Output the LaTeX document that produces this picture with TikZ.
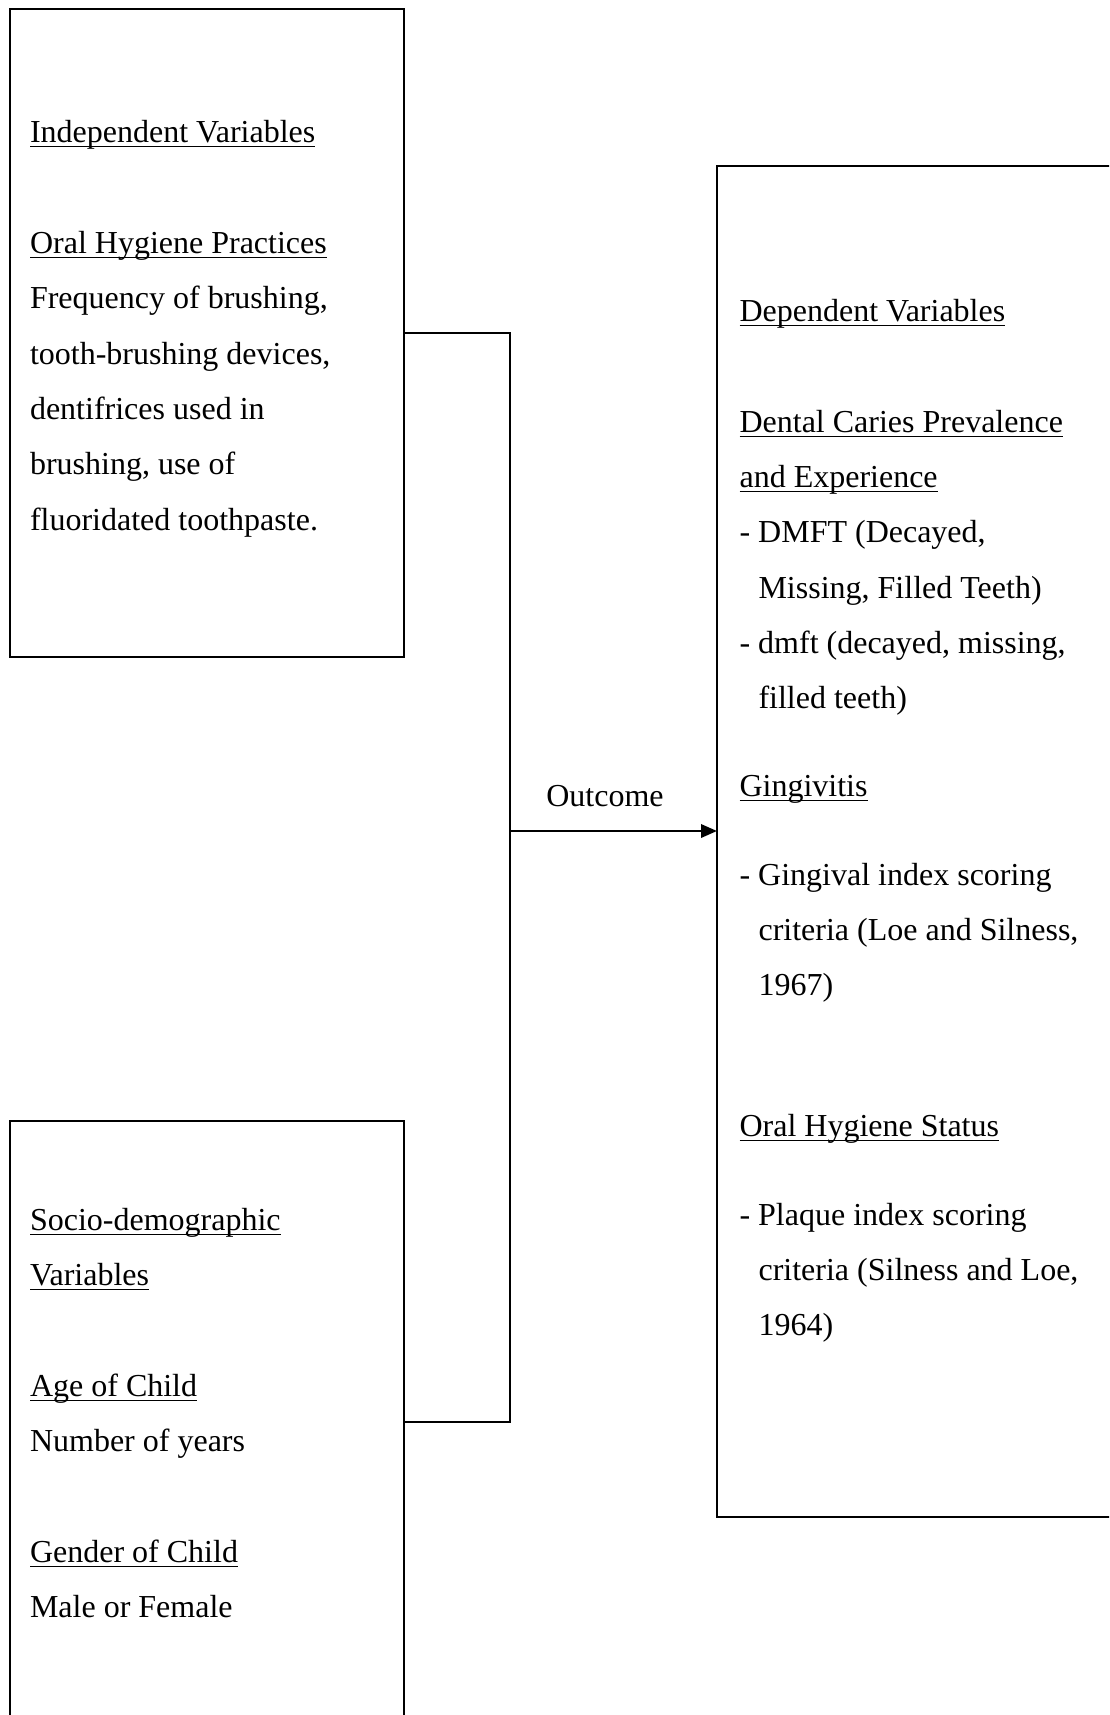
\documentclass[tikz,border=0pt]{standalone}
\usepackage{fontspec}
\setmainfont{Liberation Serif}
\usetikzlibrary{arrows.meta, positioning}
\newcommand{\undl}[1]{\underline{\smash{#1}}}

\begin{document}
\begin{tikzpicture}[x=0.375pt, y=-0.375pt,
    varbox/.style={draw, line width=0.9pt, inner sep=0pt, outer sep=0pt},
    txt/.style={anchor=base west, inner sep=0pt, font=\fontsize{12}{14}\selectfont},
    link/.style={line width=0.9pt}]
    \useasboundingbox (0,0) rectangle (1109,1715);
    \clip (0,0) rectangle (1109,1715);
    % Kästen
    \node[varbox, minimum width=147.75pt, minimum height=243pt] (indep) at (207,333) {};
    \node[varbox, minimum width=147.75pt, minimum height=225.75pt] (socio) at (207,1422) {};
    \node[varbox, minimum width=151.125pt, minimum height=506.625pt] (dep) at (918.5,841.5) {};
    % Texte links oben
    \foreach \yy/\txt [count=\k] in {143/{\undl{Independent Variables}},
        253.6/{\undl{Oral Hygiene Practices}}, 308.9/{Frequency of brushing,},
        364.2/{tooth-brushing devices,}, 419.5/{dentifrices used in},
        474.8/{brushing, use of}, 530.1/{fluoridated toothpaste.}}
        \node[txt] (ind-\k) at (29.5,\yy) {\txt};
    % Texte links unten
    \foreach \yy/\txt [count=\k] in {1230.6/{\undl{Socio-demographic}},
        1285.9/{\undl{Variables}}, 1396.5/{\undl{Age of Child}},
        1451.8/{Number of years}, 1562.4/{\undl{Gender of Child}},
        1617.7/{Male or Female}}
        \node[txt] (soc-\k) at (29.5,\yy) {\txt};
    % Texte rechts
    \foreach \xx/\yy/\txt [count=\k] in {739/321.7/{\undl{Dependent Variables}},
        739/432.3/{\undl{Dental Caries Prevalence}}, 739/487.6/{\undl{and Experience}},
        739/542.9/{- DMFT (Decayed,}, 758/598.2/{Missing, Filled Teeth)},
        739/653.5/{- dmft (decayed, missing,}, 758/708.8/{filled teeth)},
        739/796.4/{\undl{Gingivitis}},
        739/885/{- Gingival index scoring}, 758/940.3/{criteria (Loe and Silness,},
        758/995.6/{1967)},
        739/1136.5/{\undl{Oral Hygiene Status}},
        739/1225.1/{- Plaque index scoring}, 758/1280.4/{criteria (Silness and Loe,},
        758/1335.7/{1964)}}
        \node[txt] (dep-\k) at (\xx,\yy) {\txt};
    % Verbindungen
    \coordinate (junc) at (510,831);
    \draw[link] (indep.east) -| (junc);
    \draw[link] (socio.east) -| (junc);
    \draw[link, -{Triangle[length=6pt, width=5pt]}] (junc) -- (dep.west |- junc);
    \node[txt, anchor=base] (outlbl) at (605,806) {Outcome};
\end{tikzpicture}
\end{document}
